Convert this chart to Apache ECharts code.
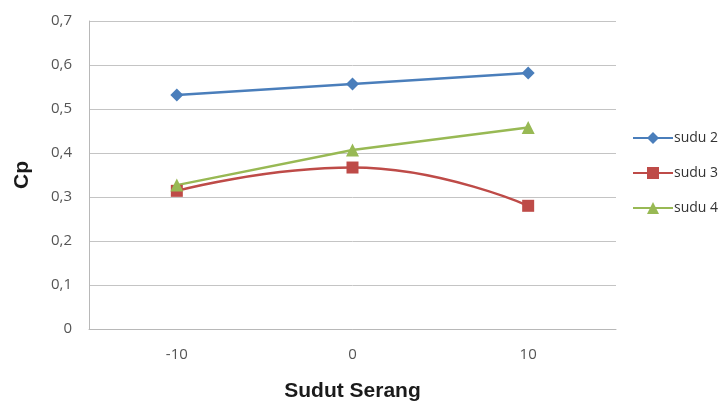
<!DOCTYPE html>
<html><head><meta charset="utf-8">
<script src="https://cdn.jsdelivr.net/npm/echarts@6/dist/echarts.min.js"></script>
<style>html,body{margin:0;padding:0;background:#fff}#c{width:722px;height:402px}</style>
</head><body><div id="c"></div>
<script>
const categories = ['-10', '0', '10'];
const sudu2 = [0.532, 0.557, 0.582];
const sudu3 = [0.314, 0.367, 0.280];
const sudu4 = [0.327, 0.407, 0.458];
const seriesNames = ['sudu 2', 'sudu 3', 'sudu 4'];
const yTicks = [0, 0.1, 0.2, 0.3, 0.4, 0.5, 0.6, 0.7];

const chart = echarts.init(document.getElementById('c'));
const colors = ['#4a7ebb', '#be4b48', '#98b954'];
chart.setOption({
  animation: false,
  color: colors,
  grid: { left: 89, right: 106, top: 21, bottom: 73, containLabel: false, outerBoundsMode: 'none' },
  legend: {
    orient: 'vertical', left: 627, top: 126, itemGap: 21,
    itemWidth: 40, itemHeight: 15,
    textStyle: { fontFamily: 'Open Sans', fontSize: 14, color: '#333', padding: [0, 0, 0, -4] },
    data: seriesNames
  },
  xAxis: {
    type: 'category', data: categories, boundaryGap: true,
    name: 'Sudut Serang', nameLocation: 'middle', nameGap: 52,
    nameTextStyle: { fontFamily: 'Liberation Sans', fontWeight: 'bold', fontSize: 21, color: '#1a1a1a' },
    axisLine: { lineStyle: { color: '#b8b8b8', width: 1 } },
    axisTick: { show: false },
    axisLabel: { margin: 18, fontFamily: 'Open Sans', fontSize: 15, color: '#555' }
  },
  yAxis: {
    type: 'value', min: 0, max: 0.7, interval: 0.1,
    name: 'Cp', nameLocation: 'middle', nameGap: 56,
    nameTextStyle: { fontFamily: 'Liberation Sans', fontWeight: 'bold', fontSize: 21, color: '#1a1a1a' },
    axisLine: { show: true, lineStyle: { color: '#b8b8b8', width: 1 } },
    axisTick: { show: false },
    splitLine: { lineStyle: { color: '#c4c4c4', width: 1 } },
    axisLabel: {
      margin: 17, fontFamily: 'Open Sans', fontSize: 15, color: '#555',
      formatter: v => {
        const t = yTicks.find(x => Math.abs(x - v) < 1e-9);
        return (t === undefined ? v : t) === 0 ? '0' : String(+v.toFixed(1)).replace('.', ',');
      }
    }
  },
  series: [
    { name: seriesNames[0], type: 'line', data: sudu2, symbol: 'diamond', symbolSize: 13,
      lineStyle: { width: 2.5 }, itemStyle: { color: colors[0] } },
    { name: seriesNames[1], type: 'line', data: sudu3, symbol: 'rect', symbolSize: 12, smooth: 0.5,
      lineStyle: { width: 2.5 }, itemStyle: { color: colors[1] } },
    { name: seriesNames[2], type: 'line', data: sudu4, symbol: 'triangle', symbolSize: 13,
      lineStyle: { width: 2.5 }, itemStyle: { color: colors[2] } }
  ]
});
</script></body></html>
